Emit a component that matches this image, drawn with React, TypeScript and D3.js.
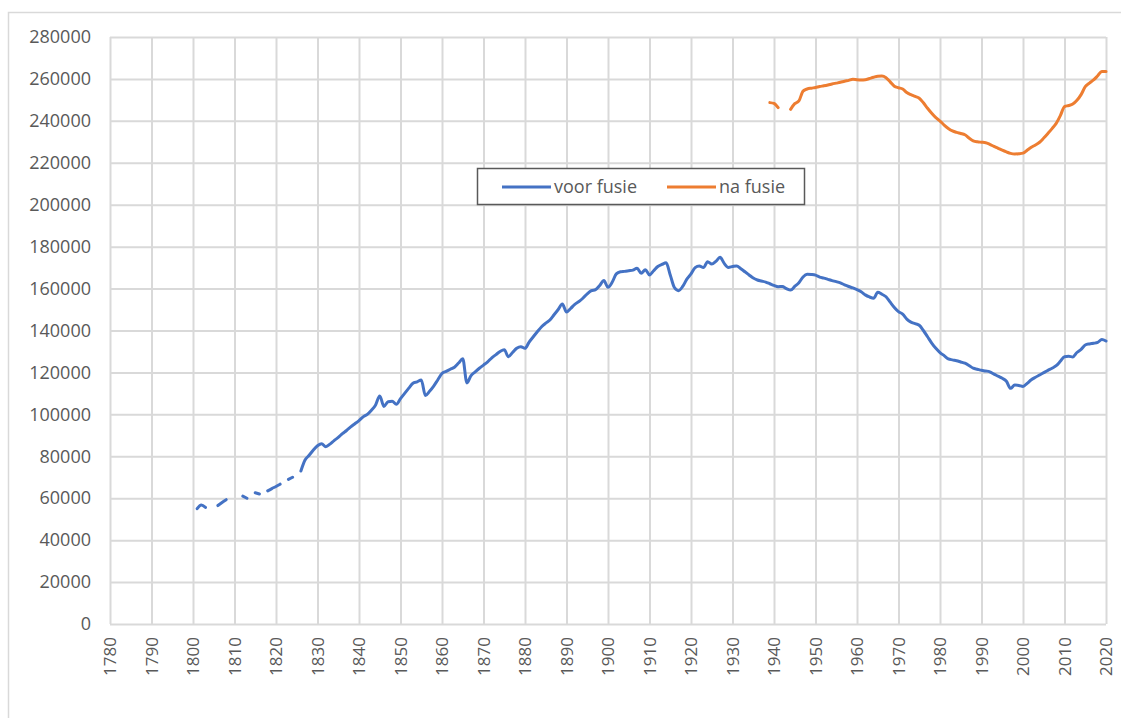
import React, { useEffect, useRef } from 'react';
import * as d3 from 'd3';

// x-axis tick labels (years) and y-axis tick labels
const yearTicks = [1780, 1790, 1800, 1810, 1820, 1830, 1840, 1850, 1860, 1870, 1880, 1890, 1900,
  1910, 1920, 1930, 1940, 1950, 1960, 1970, 1980, 1990, 2000, 2010, 2020];
const valueTicks = [0, 20000, 40000, 60000, 80000, 100000, 120000, 140000, 160000, 180000,
  200000, 220000, 240000, 260000, 280000];

// "voor fusie" population per year, starting 1801 (null = missing year)
const voorFusieStart = 1801;
const voorFusie: (number | null)[] = [
  55000, 56800, 55600, null, null, 56500, 58000, 59300, null, null, // 1801-1810
  null, 61000, 60000, null, 62600, 62000, null, 63500, 64600, 65600, // 1811-1820
  66700, null, 69000, 70000, null, 73000, 78200, 80500, 83000, 85000, // 1821-1830
  86000, 84600, 85800, 87500, 89000, 90800, 92300, 94000, 95500, 97000, // 1831-1840
  98800, 100000, 102000, 104500, 108800, 103800, 106000, 106200, 104800, 107500, // 1841-1850
  110000, 112500, 114800, 115500, 116400, 109000, 111000, 113500, 116500, 119500, // 1851-1860
  120500, 121500, 122500, 124500, 126500, 115000, 118500, 120300, 122000, 123500, // 1861-1870
  125000, 127000, 128500, 130000, 130800, 127500, 129500, 131500, 132300, 131500, // 1871-1880
  134500, 137000, 139500, 141800, 143500, 145000, 147500, 150000, 152600, 148800, // 1881-1890
  150500, 152500, 153800, 155500, 157500, 159000, 159500, 161500, 163800, 160600, // 1891-1900
  163000, 167000, 168000, 168200, 168500, 168800, 169700, 167300, 169000, 166500, // 1901-1910
  168500, 170500, 171500, 172300, 166500, 160500, 159000, 161000, 164500, 167000, // 1911-1920
  170000, 170800, 170000, 172800, 171700, 173000, 174900, 172000, 170100, 170500, // 1921-1930
  170800, 169500, 168000, 166500, 165000, 164100, 163600, 163100, 162300, 161500, // 1931-1940
  160900, 161000, 160000, 159300, 161000, 162800, 165500, 166800, 166700, 166400, // 1941-1950
  165500, 165000, 164400, 163800, 163300, 162700, 161800, 161000, 160300, 159500, // 1951-1960
  158500, 157000, 156000, 155400, 158200, 157300, 156100, 153500, 151000, 149000, // 1961-1970
  147800, 145400, 144000, 143300, 142500, 140000, 137000, 134000, 131500, 129500, // 1971-1980
  128000, 126500, 126000, 125600, 125000, 124400, 123300, 122000, 121500, 121000, // 1981-1990
  120700, 120300, 119200, 118200, 117200, 115800, 112400, 114000, 113800, 113300, // 1991-2000
  114800, 116500, 117700, 118800, 119900, 121000, 122000, 123200, 125300, 127500, // 2001-2010
  127700, 127400, 129500, 131000, 133100, 133600, 133900, 134300, 135700, 135000, // 2011-2020
];

// "na fusie" population per year, starting 1939
const naFusieStart = 1939;
const naFusie: (number | null)[] = [
  248700, 248300, // 1939-1940
  246300, null, null, 245500, 248200, 249500, 254200, 255200, 255600, 255900, // 1941-1950
  256400, 256700, 257100, 257600, 258000, 258400, 258900, 259300, 259800, 259600, // 1951-1960
  259500, 259600, 260200, 260800, 261300, 261400, 260600, 258600, 256500, 255800, // 1961-1970
  255200, 253500, 252500, 251700, 250800, 248600, 246000, 243600, 241500, 239900, // 1971-1980
  238000, 236400, 235200, 234500, 234000, 233400, 231800, 230500, 230000, 229800, // 1981-1990
  229600, 228800, 227800, 226900, 226000, 225200, 224500, 224200, 224300, 224600, // 1991-2000
  226000, 227400, 228500, 229800, 231800, 234000, 236300, 238800, 242500, 246800, // 2001-2010
  247300, 248000, 249800, 252500, 256300, 258000, 259500, 261500, 263600, 263500, // 2011-2020
];

const seriesNames = ['voor fusie', 'na fusie'];
const seriesColors = ['#4472C4', '#ED7D31'];

const W = 1121;
const H = 718;
const FONT = "'Open Sans', sans-serif";

function PopulationChart() {
  const svgRef = useRef<SVGSVGElement>(null);

  useEffect(() => {
    const svg = d3.select(svgRef.current);
    svg.selectAll('*').remove();

    const left = 110, right = 1106, top = 37, bottom = 624;

    const x = d3.scaleLinear().domain([1780, 2020]).range([left, right]);
    const y = d3.scaleLinear().domain([0, 280000]).range([bottom, top]);

    // outer frame (only top and left edges are visible in the picture)
    svg.append('path')
      .attr('d', `M8.5,${H} V12.5 H${W}`)
      .attr('fill', 'none')
      .attr('stroke', '#d9d9d9')
      .attr('stroke-width', 1.5);

    // gridlines
    const gridY = d3.axisLeft(y).tickValues(valueTicks).tickSize(-(right - left)).tickFormat(() => '');
    svg.append('g')
      .attr('transform', `translate(${left},0)`)
      .call(gridY)
      .call((g) => g.select('.domain').remove())
      .selectAll('line')
      .attr('stroke', '#d9d9d9')
      .attr('stroke-width', 2);

    const gridX = d3.axisBottom(x).tickValues(yearTicks).tickSize(-(bottom - top)).tickFormat(() => '');
    svg.append('g')
      .attr('transform', `translate(0,${bottom})`)
      .call(gridX)
      .call((g) => g.select('.domain').remove())
      .selectAll('line')
      .attr('stroke', '#d9d9d9')
      .attr('stroke-width', 2);

    // y labels
    const yAxis = d3.axisLeft(y).tickValues(valueTicks).tickSize(0).tickPadding(19).tickFormat((d) => String(d));
    svg.append('g')
      .attr('transform', `translate(${left},0)`)
      .call(yAxis)
      .call((g) => g.select('.domain').remove())
      .selectAll('text')
      .attr('fill', '#595959')
      .style('font-family', FONT)
      .style('font-size', '18px');

    // x labels, rotated
    const xAxis = d3.axisBottom(x).tickValues(yearTicks).tickSize(0).tickFormat((d) => String(d));
    svg.append('g')
      .attr('transform', `translate(0,${bottom})`)
      .call(xAxis)
      .call((g) => g.select('.domain').remove())
      .selectAll('text')
      .attr('transform', 'rotate(-90)')
      .attr('text-anchor', 'end')
      .attr('x', -13)
      .attr('y', 0)
      .attr('dy', '0.35em')
      .attr('fill', '#595959')
      .style('font-family', FONT)
      .style('font-size', '17px');

    const line = d3.line<[number, number | null]>()
      .defined((d) => d[1] != null)
      .x((d) => x(d[0]))
      .y((d) => y(d[1] as number))
      .curve(d3.curveMonotoneX);

    const toPairs = (start: number, vals: (number | null)[]) =>
      vals.map((v, i) => [start + i, v] as [number, number | null]);

    [toPairs(voorFusieStart, voorFusie), toPairs(naFusieStart, naFusie)].forEach((pts, i) => {
      svg.append('path')
        .datum(pts)
        .attr('d', line)
        .attr('fill', 'none')
        .attr('stroke', seriesColors[i])
        .attr('stroke-width', 3)
        .attr('stroke-linecap', 'round')
        .attr('stroke-linejoin', 'round');
    });

    // legend
    const lg = svg.append('g');
    lg.append('rect')
      .attr('x', 477.5).attr('y', 168.5)
      .attr('width', 327).attr('height', 36)
      .attr('fill', '#fff')
      .attr('stroke', '#595959')
      .attr('stroke-width', 1.5);
    const legendX = [502, 667];
    seriesNames.forEach((name, i) => {
      lg.append('line')
        .attr('x1', legendX[i]).attr('x2', legendX[i] + 49)
        .attr('y1', 187).attr('y2', 187)
        .attr('stroke', seriesColors[i])
        .attr('stroke-width', 3);
      lg.append('text')
        .attr('x', legendX[i] + 52)
        .attr('y', 187)
        .attr('dy', '0.35em')
        .attr('fill', '#595959')
        .style('font-family', FONT)
        .style('font-size', '18px')
        .text(name);
    });
  }, []);

  return (
    <svg ref={svgRef} width={W} height={H}
      style={{ position: 'absolute', left: 0, top: 0, background: '#fff', display: 'block' }} />
  );
}

export default function App() {
  return <PopulationChart />;
}
